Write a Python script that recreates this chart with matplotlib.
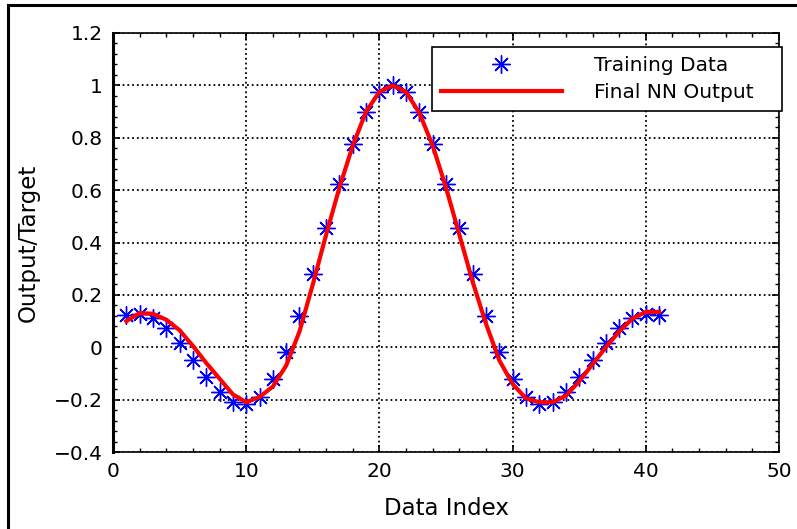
import numpy as np
import matplotlib
matplotlib.use("Agg")
from matplotlib import pyplot as plt
from matplotlib.patches import Rectangle

# data
idx = list(range(1, 42))
target = [0.124, 0.127, 0.110, 0.073, 0.018, -0.047, -0.113, -0.170, -0.208, -0.216,
          -0.189, -0.123, -0.018, 0.120, 0.281, 0.455, 0.625, 0.777, 0.897, 0.974,
          1.000,
          0.974, 0.897, 0.777, 0.625, 0.455, 0.281, 0.120, -0.018, -0.123, -0.189,
          -0.216, -0.208, -0.170, -0.113, -0.047, 0.018, 0.073, 0.110, 0.127, 0.124]
nn_out = [0.100, 0.130, 0.128, 0.105, 0.065, 0.005, -0.060, -0.120, -0.180, -0.210,
          -0.190, -0.150, -0.070, 0.060, 0.240, 0.430, 0.610, 0.770, 0.900, 0.975,
          1.000, 0.975, 0.895, 0.770, 0.610, 0.430, 0.250, 0.090, -0.050, -0.140,
          -0.195, -0.210, -0.210, -0.185, -0.130, -0.065, 0.000, 0.060, 0.110,
          0.135, 0.135]

xticks = [0, 10, 20, 30, 40, 50]
yticks = [-0.4, -0.2, 0, 0.2, 0.4, 0.6, 0.8, 1, 1.2]
ytick_labels = ["\u22120.4", "\u22120.2", "0", "0.2", "0.4", "0.6", "0.8", "1", "1.2"]

plt.rcParams['font.family'] = ['DejaVu Sans']

fig = plt.figure(figsize=(7.97, 5.29), dpi=100)
ax = fig.add_axes([113/797, 1-452/529, (779-113)/797, (452-33)/529])

ax.plot(idx, target, linestyle='none', marker=(8, 2, 0), markersize=13,
        markeredgewidth=1.0, color='#0000ff', label='Training Data', zorder=3)
ax.plot(idx, nn_out, color='#ff0000', linewidth=3, label='Final NN Output', zorder=4)

ax.set_xlim(0, 50)
ax.set_ylim(-0.4, 1.2)
ax.set_xticks(xticks)
ax.set_yticks(yticks)
ax.set_yticklabels(ytick_labels)
ax.set_xticks(np.arange(0, 51, 2), minor=True)
ax.set_yticks(np.arange(-0.4, 1.21, 0.04), minor=True)
ax.tick_params(which='both', direction='in', top=True, right=True, labelsize=14.5)
ax.tick_params(which='major', length=5, width=1.2)
ax.tick_params(which='minor', length=3, width=1.0)
ax.tick_params(axis='y', pad=7.5)
ax.tick_params(axis='x', pad=7)
ax.grid(True, which='major', color='black', linestyle=':', linewidth=1.3)

for side in ['top', 'right', 'bottom']:
    ax.spines[side].set_linewidth(1.2)
ax.spines['left'].set_linewidth(2.2)

ax.set_xlabel('Data Index', fontsize=16.5, labelpad=12)
ax.set_ylabel('Output/Target', fontsize=16.5, labelpad=10)

leg = ax.legend(loc='upper left', mode='expand',
                bbox_to_anchor=(432/797, 1-111/529, 350/797, 64/529),
                bbox_transform=fig.transFigure, borderaxespad=0, fancybox=False,
                framealpha=1, edgecolor='black', fontsize=14.5, handlelength=6.0,
                handletextpad=1.6, borderpad=0.45, labelspacing=0.4, numpoints=1)
leg.get_frame().set_linewidth(1.2)

fig.patches.append(Rectangle((8/797, -0.1), 1.2, 1 - 5.5/529 + 0.1,
                             transform=fig.transFigure, fill=False,
                             edgecolor='black', linewidth=2.2))

fig.savefig('out.png', dpi=100)
